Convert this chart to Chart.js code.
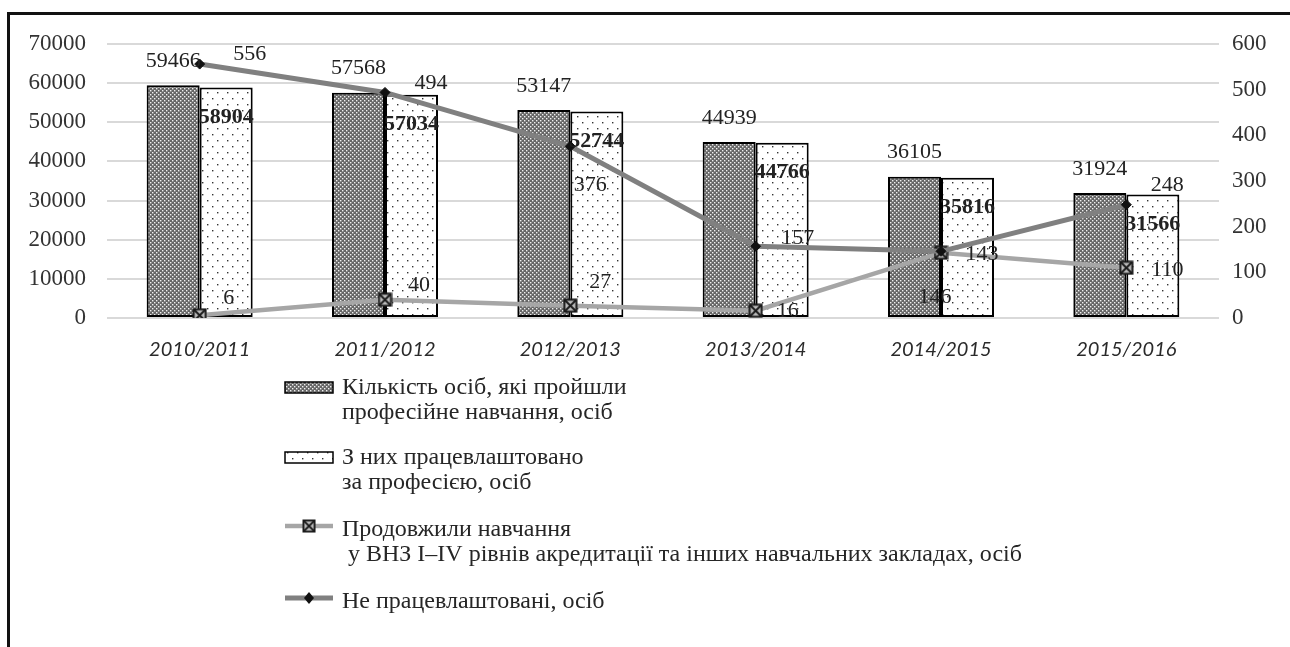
<!DOCTYPE html>
<html>
<head>
<meta charset="utf-8">
<script src="https://cdn.jsdelivr.net/npm/chart.js@4.4.1/dist/chart.umd.min.js"></script>
<style>
    html, body { margin: 0; padding: 0; background: #fff; }
    #wrap { position: relative; width: 1290px; height: 647px; overflow: hidden; }
    #frame { position: absolute; left: 7px; top: 12px; right: -10px; bottom: -10px;
             border-top: 3px solid #111; border-left: 3px solid #111; }
    #chart { position: absolute; left: 0; top: 0; }
</style>
</head>
<body>
<div id="wrap">
    <div id="frame"></div>
    <canvas id="chart" width="1290" height="647"></canvas>
</div>
<script>
const seasons = ['2010/2011', '2011/2012', '2012/2013', '2013/2014', '2014/2015', '2015/2016'];
const trainedTotal = [59466, 57568, 53147, 44939, 36105, 31924];
const employedByProfession = [58904, 57034, 52744, 44766, 35816, 31566];
const continuedStudy = [6, 40, 27, 16, 143, 110];
const notEmployed = [556, 494, 376, 157, 146, 248];
const leftTicks = [0, 10000, 20000, 30000, 40000, 50000, 60000, 70000];
const rightTicks = [0, 100, 200, 300, 400, 500, 600];

const legendText = [
    ['Кількість осіб, які пройшли', 'професійне навчання, осіб'],
    ['З них працевлаштовано', 'за професією, осіб'],
    ['Продовжили навчання', ' у ВНЗ I–IV рівнів акредитації та інших навчальних закладах, осіб'],
    ['Не працевлаштовані, осіб']
];

// label nudges, copied from how the labels sit in the original
const notEmployedNudge = [[50, -10], [46, -9], [20, 39], [42, -8], [-6, 46], [41, -20]];
const continuedNudge = [[29, -17], [34, -15], [30, -23], [32, 1], [41, 2], [41, 2]];

const serif = '"Liberation Serif", "Times New Roman", serif';

function makePattern(w, h, bg, dot, dots, size) {
    const c = document.createElement('canvas');
    c.width = w; c.height = h;
    const g = c.getContext('2d');
    g.fillStyle = bg;
    g.fillRect(0, 0, w, h);
    g.fillStyle = dot;
    dots.forEach(d => g.fillRect(d[0], d[1], size, size));
    return g.createPattern(c, 'repeat');
}

function makeCrossMarker() {
    const c = document.createElement('canvas');
    c.width = 15; c.height = 15;
    const g = c.getContext('2d');
    g.fillStyle = '#bdbdbd';
    g.fillRect(1, 1, 13, 13);
    g.strokeStyle = '#1a1a1a';
    g.lineWidth = 2;
    g.strokeRect(1.5, 1.5, 12, 12);
    g.beginPath();
    g.moveTo(2, 2); g.lineTo(13, 13);
    g.moveTo(13, 2); g.lineTo(2, 13);
    g.stroke();
    return c;
}

const darkDots = makePattern(4, 4, '#666666', '#f0f0f0', [[0, 0], [2, 2]], 1.4);
const lightDots = makePattern(10, 12, '#ffffff', '#333333', [[2, 2], [7, 8]], 1.4);
const crossMarker = makeCrossMarker();

const dataLabels = {
    id: 'dataLabels',
    afterDatasetsDraw(chart) {
        const ctx = chart.ctx;
        ctx.save();
        ctx.textAlign = 'center';
        ctx.textBaseline = 'middle';
        ctx.fillStyle = '#222';

        ctx.font = '22px ' + serif;
        chart.getDatasetMeta(0).data.forEach((bar, i) => {
            ctx.fillText(trainedTotal[i], bar.x, bar.y - 24);
        });

        ctx.font = 'bold 22px ' + serif;
        chart.getDatasetMeta(1).data.forEach((bar, i) => {
            ctx.fillText(employedByProfession[i], bar.x, bar.y + 30);
        });

        ctx.font = '22px ' + serif;
        chart.getDatasetMeta(2).data.forEach((pt, i) => {
            ctx.fillText(continuedStudy[i], pt.x + continuedNudge[i][0], pt.y + continuedNudge[i][1]);
        });
        chart.getDatasetMeta(3).data.forEach((pt, i) => {
            ctx.fillText(notEmployed[i], pt.x + notEmployedNudge[i][0], pt.y + notEmployedNudge[i][1]);
        });
        ctx.restore();
    }
};

const stackedLegend = {
    id: 'stackedLegend',
    afterDraw(chart) {
        const ctx = chart.ctx;
        const sx = 285, sw = 48, tx = 342;
        const rows = [388, 458, 530, 602];
        ctx.save();
        ctx.font = '24px ' + serif;
        ctx.textBaseline = 'middle';
        ctx.textAlign = 'left';
        chart.data.datasets.forEach((ds, i) => {
            const y = rows[i];
            if (ds.type === 'bar') {
                ctx.fillStyle = ds.backgroundColor;
                ctx.fillRect(sx, y - 6, sw, 11);
                ctx.strokeStyle = '#000';
                ctx.lineWidth = 1.5;
                ctx.strokeRect(sx, y - 6, sw, 11);
            } else {
                ctx.strokeStyle = ds.borderColor;
                ctx.lineWidth = ds.borderWidth;
                ctx.beginPath();
                ctx.moveTo(sx, y - 4);
                ctx.lineTo(sx + sw, y - 4);
                ctx.stroke();
                if (ds.pointStyle === 'rectRot') {
                    ctx.fillStyle = '#111';
                    ctx.beginPath();
                    ctx.moveTo(sx + 24, y - 10);
                    ctx.lineTo(sx + 29, y - 4);
                    ctx.lineTo(sx + 24, y + 2);
                    ctx.lineTo(sx + 19, y - 4);
                    ctx.closePath();
                    ctx.fill();
                } else {
                    ctx.drawImage(crossMarker, sx + 17, y - 11, 14, 14);
                }
            }
            ctx.fillStyle = '#262626';
            legendText[i].forEach((line, k) => {
                ctx.fillText(line, tx, y + k * 25);
            });
        });
        ctx.restore();
    }
};

new Chart(document.getElementById('chart'), {
    data: {
        labels: seasons,
        datasets: [
            {
                type: 'bar',
                label: legendText[0].join(' '),
                data: trainedTotal,
                backgroundColor: darkDots,
                borderColor: '#000',
                borderWidth: 2,
                borderSkipped: false,
                yAxisID: 'y',
                order: 2
            },
            {
                type: 'bar',
                label: legendText[1].join(' '),
                data: employedByProfession,
                backgroundColor: lightDots,
                borderColor: '#000',
                borderWidth: 2,
                borderSkipped: false,
                yAxisID: 'y',
                order: 2
            },
            {
                type: 'line',
                label: legendText[2].join(' '),
                data: continuedStudy,
                borderColor: '#a6a6a6',
                borderWidth: 4.5,
                pointStyle: crossMarker,
                pointRadius: 7,
                tension: 0,
                yAxisID: 'y1',
                order: 1
            },
            {
                type: 'line',
                label: legendText[3].join(' '),
                data: notEmployed,
                borderColor: '#808080',
                borderWidth: 5,
                pointStyle: 'rectRot',
                pointRadius: 5,
                pointBackgroundColor: '#111',
                pointBorderColor: '#111',
                pointBorderWidth: 1,
                tension: 0,
                yAxisID: 'y1',
                order: 0
            }
        ]
    },
    options: {
        responsive: false,
        animation: false,
        events: [],
        layout: { padding: { top: 44, left: 0, right: 0, bottom: 269 } },
        datasets: {
            bar: { categoryPercentage: 0.572, barPercentage: 1 }
        },
        plugins: {
            legend: { display: false },
            tooltip: { enabled: false }
        },
        scales: {
            x: {
                grid: { display: false },
                border: { display: false },
                ticks: {
                    padding: 12,
                    color: '#2a2a2a',
                    font: { family: 'Lato', style: 'italic', size: 20 },
                    maxRotation: 0
                },
                afterFit: s => { s.height = 60; }
            },
            y: {
                position: 'left',
                min: 0,
                max: 70000,
                afterBuildTicks: s => { s.ticks = leftTicks.map(v => ({ value: v })); },
                grid: { color: '#d9d9d9', lineWidth: 2, drawTicks: false },
                border: { display: false },
                ticks: {
                    padding: 21,
                    color: '#333',
                    font: { family: serif, size: 23 },
                    callback: v => String(v)
                },
                afterFit: s => { s.width = 107; }
            },
            y1: {
                position: 'right',
                min: 0,
                max: 600,
                afterBuildTicks: s => { s.ticks = rightTicks.map(v => ({ value: v })); },
                grid: { display: false, drawTicks: false },
                border: { display: false },
                ticks: {
                    padding: 13,
                    color: '#333',
                    font: { family: serif, size: 23 },
                    callback: v => String(v)
                },
                afterFit: s => { s.width = 71; }
            }
        }
    },
    plugins: [dataLabels, stackedLegend]
});
</script>
</body>
</html>
